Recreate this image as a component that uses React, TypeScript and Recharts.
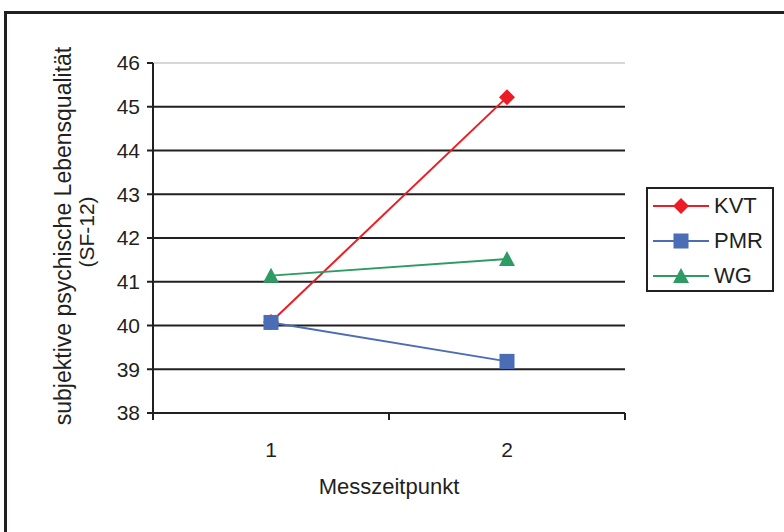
import { LineChart, Line, XAxis, YAxis, CartesianGrid, Label } from "recharts";

const TIMES = [1, 2];
const KVT = [40.08, 45.22];
const PMR = [40.07, 39.18];
const WG = [41.14, 41.52];

const Y_TICKS = [38, 39, 40, 41, 42, 43, 44, 45, 46];
const X_TICKS = [0.5, 1, 1.5, 2, 2.5];

const SERIES = [
    { key: "KVT", color: "#ED1C24", shape: "diamond" },
    { key: "PMR", color: "#4A6DB5", shape: "square" },
    { key: "WG", color: "#2E9A64", shape: "triangle" },
];

const data = TIMES.map((t, i) => ({ t, KVT: KVT[i], PMR: PMR[i], WG: WG[i] }));

const FONT = "'Liberation Sans', Arial, sans-serif";
const INK = "#231f20";
const TOP = 63;

function Marker({ shape, cx, cy, color }: any) {
    if (shape === "diamond") {
        const r = 8;
        return <polygon points={`${cx},${cy - r} ${cx + r},${cy} ${cx},${cy + r} ${cx - r},${cy}`} fill={color} />;
    }
    if (shape === "square") {
        const r = 7.5;
        return <rect x={cx - r} y={cy - r} width={r * 2} height={r * 2} fill={color} />;
    }
    const r = 8;
    return <polygon points={`${cx},${cy - r} ${cx + r},${cy + 7} ${cx - r},${cy + 7}`} fill={color} />;
}

function XTick({ x, y, payload }: any) {
    const v = payload.value;
    if (Number.isInteger(v)) {
        return (
            <text x={x} y={y + 44} textAnchor="middle" fontSize={21} fill={INK} fontFamily={FONT}>
                {v}
            </text>
        );
    }
    return <line x1={x} y1={y} x2={x} y2={y + 7} stroke={INK} strokeWidth={2} />;
}

function YTitle({ viewBox }: any) {
    const cy = viewBox.y + viewBox.height / 2 - 2;
    return (
        <g fontFamily={FONT} fontSize={23} fill={INK} textAnchor="middle">
            <defs>
                <clipPath id="ytitle-clip">
                    <rect x={0} y={viewBox.y - 17} width={150} height={600} />
                </clipPath>
            </defs>
            <g clipPath="url(#ytitle-clip)">
                <text transform={`translate(71, ${cy}) rotate(-90)`}>subjektive psychische Lebensqualität</text>
                <text transform={`translate(94, ${cy - 4}) rotate(-90)`} fontSize={21}>(SF-12)</text>
            </g>
        </g>
    );
}

export default function App() {
    return (
        <div style={{ position: "absolute", left: 0, top: 0, width: 784, height: 532, background: "#fff" }}>
            <div
                style={{
                    position: "absolute",
                    left: 4,
                    top: 11,
                    right: 0,
                    bottom: 0,
                    borderLeft: `3px solid ${INK}`,
                    borderTop: `3px solid ${INK}`,
                }}
            />
            <LineChart width={784} height={532} data={data} margin={{ top: TOP, right: 159, bottom: 0, left: 0 }}>
                <CartesianGrid
                    vertical={false}
                    horizontal={(p: any) => (
                        <line
                            key={p.key}
                            x1={p.x1}
                            y1={p.y1}
                            x2={p.x2}
                            y2={p.y2}
                            stroke={Math.abs(p.y1 - TOP) < 1 ? "#b0b0b0" : INK}
                            strokeWidth={Math.abs(p.y1 - TOP) < 1 ? 1 : 2}
                        />
                    )}
                />
                <XAxis
                    dataKey="t"
                    type="number"
                    domain={[0.5, 2.5]}
                    ticks={X_TICKS}
                    height={119}
                    tickLine={false}
                    tickSize={0}
                    tickMargin={0}
                    axisLine={{ stroke: INK, strokeWidth: 2 }}
                    tick={<XTick />}
                    interval={0}
                >
                    <Label value="Messzeitpunkt" position="insideTop" offset={65} fontSize={22} fill={INK} fontFamily={FONT} />
                </XAxis>
                <YAxis
                    type="number"
                    domain={[38, 46]}
                    ticks={Y_TICKS}
                    width={153}
                    interval={0}
                    tickSize={6}
                    tickMargin={7}
                    axisLine={{ stroke: INK, strokeWidth: 2 }}
                    tickLine={{ stroke: INK, strokeWidth: 2 }}
                    tick={{ fontSize: 21, fill: INK, fontFamily: FONT }}
                >
                    <Label content={<YTitle />} />
                </YAxis>
                {SERIES.map((s) => (
                    <Line
                        key={s.key}
                        dataKey={s.key}
                        stroke={s.color}
                        strokeWidth={2}
                        isAnimationActive={false}
                        dot={(p: any) => <Marker key={`${s.key}-${p.index}`} shape={s.shape} cx={p.cx} cy={p.cy} color={s.color} />}
                        activeDot={false}
                    />
                ))}
            </LineChart>
            <div
                style={{
                    position: "absolute",
                    left: 646,
                    top: 187,
                    width: 124,
                    height: 101,
                    border: `2px solid ${INK}`,
                    fontFamily: FONT,
                    fontSize: 22,
                    color: INK,
                }}
            >
                {SERIES.map((s, i) => (
                    <div key={s.key} style={{ position: "absolute", left: 5, top: 5 + i * 35, height: 24, display: "flex", alignItems: "center" }}>
                        <svg width={56} height={20} style={{ display: "block" }}>
                            <line x1={0} y1={10} x2={56} y2={10} stroke={s.color} strokeWidth={2} />
                            <Marker shape={s.shape} cx={28} cy={10} color={s.color} />
                        </svg>
                        <span style={{ marginLeft: 5, lineHeight: "24px" }}>{s.key}</span>
                    </div>
                ))}
            </div>
        </div>
    );
}
